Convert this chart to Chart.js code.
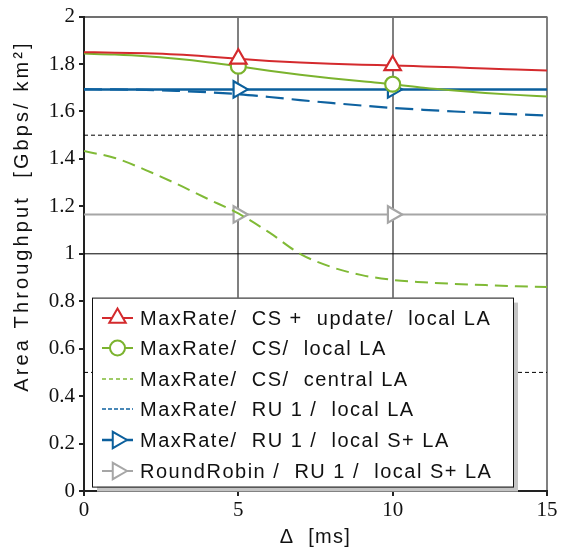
<!DOCTYPE html>
<html>
<head>
<meta charset="utf-8">
<title>Area Throughput</title>
<script src="https://cdn.jsdelivr.net/npm/chart.js@4.4.1/dist/chart.umd.min.js"></script>
<style>
    html, body { margin: 0; padding: 0; background: #fff; }
    #wrap { width: 566px; height: 549px; position: relative; }
</style>
</head>
<body>
<div id="wrap"><canvas id="tputChart"></canvas></div>
<script>
// feedback delay [ms]
const deltaMs = [0, 1, 2, 3, 4, 5, 6, 7, 8, 9, 10, 11, 12, 13, 14, 15];

// area throughput [Gbps/km2]
const csUpdateLocal = [1.850, 1.848, 1.845, 1.840, 1.832, 1.822, 1.813, 1.806, 1.801, 1.797, 1.794, 1.790, 1.786, 1.781, 1.777, 1.773];
const csLocal       = [1.844, 1.840, 1.833, 1.822, 1.808, 1.791, 1.772, 1.755, 1.740, 1.727, 1.715, 1.700, 1.688, 1.678, 1.670, 1.663];
const csCentral     = [1.433, 1.404, 1.353, 1.295, 1.232, 1.170, 1.090, 1.000, 0.945, 0.910, 0.890, 0.880, 0.873, 0.868, 0.863, 0.860];
const ru1Local      = [1.694, 1.693, 1.691, 1.687, 1.681, 1.673, 1.661, 1.648, 1.636, 1.625, 1.615, 1.607, 1.600, 1.594, 1.588, 1.583];
const ru1LocalSLA   = [1.693, 1.693, 1.693, 1.693, 1.693, 1.693, 1.693, 1.693, 1.693, 1.693, 1.693, 1.693, 1.693, 1.693, 1.693, 1.693];
const rrRu1LocalSLA = [1.166, 1.166, 1.166, 1.166, 1.166, 1.166, 1.166, 1.166, 1.166, 1.166, 1.166, 1.166, 1.166, 1.166, 1.166, 1.166];

// horizontal reference levels
const refSolid = [1.0];
const refDashed = [1.5, 0.5];

// markers only sit on these delays
const markerAt = [5, 10];

const xTicks = ['0', '5', '10', '15'];
const yTicks = ['0', '0.2', '0.4', '0.6', '0.8', '1', '1.2', '1.4', '1.6', '1.8', '2'];

const legendLabels = [
    'MaxRate/  CS +  update/  local LA',
    'MaxRate/  CS/  local LA',
    'MaxRate/  CS/  central LA',
    'MaxRate/  RU 1 /  local LA',
    'MaxRate/  RU 1 /  local S+ LA',
    'RoundRobin /  RU 1 /  local S+ LA'
];

const series = [
    { data: csUpdateLocal, color: '#d42a2d', width: 2, dash: [], marker: 'triangle', rot: 0, r: 9.5 },
    { data: csLocal, color: '#7bb32e', width: 2, dash: [], marker: 'circle', rot: 0, r: 7.5 },
    { data: csCentral, color: '#80ba36', width: 2, dash: [13, 7], legendDash: [4, 3] },
    { data: ru1Local, color: '#0e62a0', width: 2.2, dash: [18, 8], legendDash: [4, 2] },
    { data: ru1LocalSLA, color: '#0b5f9c', width: 2.5, dash: [], marker: 'triangle', rot: 90, r: 9.5 },
    { data: rrRu1LocalSLA, color: '#a6a6a6', width: 2, dash: [], marker: 'triangle', rot: 90, r: 9.5 }
];

function toPoints(values) {
    return values.map((v, i) => ({ x: deltaMs[i], y: v }));
}

function levelLine(v) {
    return [{ x: deltaMs[0], y: v }, { x: deltaMs[deltaMs.length - 1], y: v }];
}

const datasets = series.map((s, i) => ({
    label: legendLabels[i],
    data: toPoints(s.data),
    borderColor: s.color,
    borderWidth: s.width,
    borderDash: s.dash,
    cubicInterpolationMode: 'monotone',
    pointStyle: s.marker || false,
    rotation: s.rot || 0,
    pointRadius: ctx => (s.marker && markerAt.includes(ctx.raw.x)) ? s.r : 0,
    pointBackgroundColor: '#fff',
    pointBorderColor: s.color,
    pointBorderWidth: 2.2,
    order: i
}));

refSolid.forEach(v => datasets.push({
    label: '', data: levelLine(v), borderColor: '#000', borderWidth: 1, pointRadius: 0, order: 20
}));
refDashed.forEach(v => datasets.push({
    label: '', data: levelLine(v), borderColor: '#000', borderWidth: 1, borderDash: [4, 3], pointRadius: 0, order: 20
}));

function drawMarker(ctx, style, rot, r, x, y) {
    ctx.beginPath();
    if (style === 'circle') {
        ctx.arc(x, y, r, 0, Math.PI * 2);
    } else {
        let a = rot * Math.PI / 180;
        for (let k = 0; k < 3; k++) {
            const px = x + Math.sin(a) * r, py = y - Math.cos(a) * r;
            if (k === 0) ctx.moveTo(px, py); else ctx.lineTo(px, py);
            a += Math.PI * 2 / 3;
        }
        ctx.closePath();
    }
    ctx.fill();
    ctx.stroke();
}

const whiteBg = {
    id: 'whiteBg',
    beforeDraw(chart) {
        const ctx = chart.ctx;
        ctx.save();
        ctx.fillStyle = '#fff';
        ctx.fillRect(0, 0, chart.width, chart.height);
        ctx.restore();
    }
};

const boxLegend = {
    id: 'boxLegend',
    afterDraw(chart) {
        const { ctx, chartArea } = chart;
        const left = chartArea.left + 8, top = chartArea.top + 281, w = 421, h = 189;
        ctx.save();
        ctx.fillStyle = '#c4c4c4';
        ctx.fillRect(left + 5, top + 5, w, h);
        ctx.fillStyle = '#fff';
        ctx.fillRect(left, top, w, h);
        ctx.strokeStyle = '#111';
        ctx.lineWidth = 1;
        ctx.strokeRect(left + 0.5, top + 0.5, w, h);

        series.forEach((s, i) => {
            const y = Math.round(top + 20 + i * 30.6);
            const x1 = left + 10, x2 = left + 41, xm = (x1 + x2) / 2;
            ctx.setLineDash(s.legendDash || []);
            ctx.strokeStyle = s.color;
            ctx.lineWidth = s.legendDash ? 1.3 : s.width;
            ctx.beginPath();
            ctx.moveTo(x1, y);
            ctx.lineTo(x2, y);
            ctx.stroke();
            ctx.setLineDash([]);
            if (s.marker) {
                ctx.fillStyle = '#fff';
                ctx.lineWidth = 2;
                drawMarker(ctx, s.marker, s.rot, s.r, xm, y);
            }
            ctx.fillStyle = '#111';
            ctx.font = '20px "Liberation Sans", Arial, sans-serif';
            ctx.letterSpacing = '1.5px';
            ctx.textBaseline = 'middle';
            ctx.textAlign = 'left';
            ctx.fillText(legendLabels[i], left + 48, y + 1);
        });

        // axis titles
        ctx.fillStyle = '#111';
        ctx.font = '20px "Liberation Sans", Arial, sans-serif';
        ctx.letterSpacing = '1.3px';
        ctx.textAlign = 'center';
        ctx.textBaseline = 'middle';
        ctx.fillText('\u0394  [ms]', (chartArea.left + chartArea.right) / 2, 537);

        ctx.letterSpacing = '3.1px';
        ctx.translate(22, 216);
        ctx.rotate(-Math.PI / 2);
        ctx.fillText('Area Throughput  [Gbps/ km\u00b2]', 0, 0);
        ctx.restore();
    }
};

const ctx = document.getElementById('tputChart').getContext('2d');
const tputChart = new Chart(ctx, {
    type: 'line',
    data: { datasets: datasets },
    options: {
        responsive: true,
        maintainAspectRatio: false,
        animation: false,
        devicePixelRatio: 1,
        layout: { padding: { top: 16, right: 19, left: 0, bottom: 0 } },
        plugins: {
            legend: { display: false },
            tooltip: { enabled: false }
        },
        scales: {
            x: {
                type: 'linear',
                min: 0,
                max: 15,
                afterFit: scale => { scale.height = 58; },
                border: { color: '#222', width: 2 },
                grid: {
                    color: c => c.tick && c.tick.value > 0 ? '#808080' : 'transparent',
                    lineWidth: 2,
                    tickColor: '#222',
                    tickLength: 5
                },
                ticks: {
                    stepSize: 5,
                    padding: 2,
                    color: '#111',
                    font: { family: '"Liberation Serif", "Times New Roman", serif', size: 21 },
                    callback: v => xTicks[Math.round(v / 5)]
                }
            },
            y: {
                min: 0,
                max: 2,
                afterFit: scale => { scale.width = 84; },
                border: { color: '#222', width: 2 },
                grid: {
                    color: c => c.tick && c.tick.value >= 2 ? '#707070' : 'transparent',
                    lineWidth: 2,
                    tickColor: '#222',
                    tickLength: 5
                },
                ticks: {
                    stepSize: 0.2,
                    padding: 4,
                    color: '#111',
                    font: { family: '"Liberation Serif", "Times New Roman", serif', size: 21 },
                    callback: v => yTicks[Math.round(v / 0.2)]
                }
            }
        }
    },
    plugins: [whiteBg, boxLegend]
});
</script>
</body>
</html>
